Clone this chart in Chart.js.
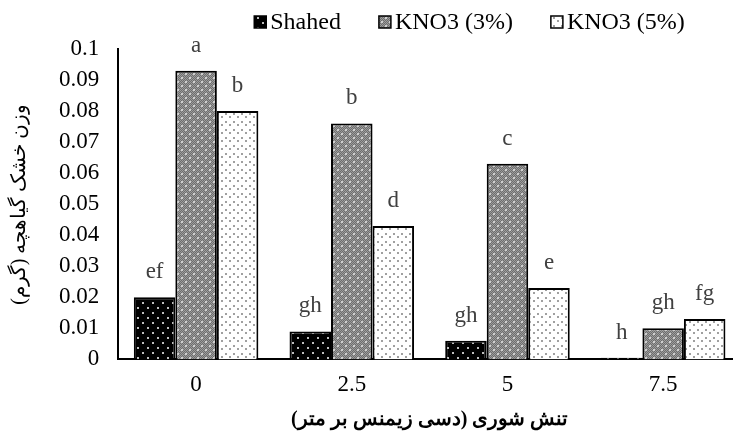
<!DOCTYPE html>
<html>
<head>
<meta charset="utf-8">
<script src="https://cdn.jsdelivr.net/npm/chart.js@4"></script>
<style>
  html, body { margin: 0; padding: 0; background: #fff; overflow: hidden; }
  #wrap { width: 741px; height: 444px; }
</style>
</head>
<body>
<div id="wrap"><canvas id="dryWeightChart"></canvas></div>
<script>
const categories = ['0', '2.5', '5', '7.5'];
const seriesNames = ['Shahed', 'KNO3 (3%)', 'KNO3 (5%)'];
const shahed = [0.020, 0.009, 0.006, 0.0005];
const kno3Low = [0.093, 0.076, 0.063, 0.010];
const kno3High = [0.080, 0.043, 0.023, 0.013];
const shahedLetters = ['ef', 'gh', 'gh', 'h'];
const kno3LowLetters = ['a', 'b', 'c', 'gh'];
const kno3HighLetters = ['b', 'd', 'e', 'fg'];
const yTicks = [0, 0.01, 0.02, 0.03, 0.04, 0.05, 0.06, 0.07, 0.08, 0.09, 0.1];

const FONT = "'Liberation Serif', 'Times New Roman', serif";

// small canvas patterns for the bar fills
function makePattern(size, bg, dot, dots, checker) {
    const c = document.createElement('canvas');
    c.width = size; c.height = size;
    const g = c.getContext('2d');
    g.fillStyle = bg;
    g.fillRect(0, 0, size, size);
    if (checker) {
        g.fillStyle = checker;
        for (let y = 0; y < size; y++)
            for (let x = (y % 2); x < size; x += 2) g.fillRect(x, y, 1, 1);
    }
    g.fillStyle = dot;
    dots.forEach(d => g.fillRect(d[0], d[1], 2, 2));
    return g.createPattern(c, 'repeat');
}

const fills = [
    makePattern(10, '#000000', '#bdbdbd', [[2, 2], [7, 7]]),
    makePattern(8, '#6e6e6e', '#cfcfcf', [[1, 1], [5, 5]], '#9c9c9c'),
    makePattern(8, '#ffffff', '#a0a0a0', [[1, 1], [5, 4]])
];

const letterSets = [shahedLetters, kno3LowLetters, kno3HighLetters];

// letters of significance above each bar
const letterPlugin = {
    id: 'letters',
    afterDatasetsDraw(chart) {
        const ctx = chart.ctx;
        ctx.save();
        ctx.font = '23px ' + FONT;
        ctx.fillStyle = '#404040';
        ctx.textAlign = 'center';
        ctx.textBaseline = 'alphabetic';
        chart.data.datasets.forEach((ds, i) => {
            chart.getDatasetMeta(i).data.forEach((bar, j) => {
                ctx.fillText(letterSets[i][j], bar.x, bar.y - 19);
            });
        });
        ctx.restore();
    }
};

// compact legend row above the plot area
const compactLegend = {
    id: 'compactLegend',
    afterDraw(chart) {
        const ctx = chart.ctx;
        const area = chart.chartArea;
        const box = 12, gap = 4, spacing = 38, y = 22;
        ctx.save();
        ctx.font = '24px ' + FONT;
        ctx.textBaseline = 'middle';
        let x = area.left + 136;
        chart.data.datasets.forEach(ds => {
            ctx.fillStyle = ds.backgroundColor;
            ctx.fillRect(x, y - box / 2, box, box);
            ctx.strokeStyle = '#000';
            ctx.lineWidth = 1.5;
            ctx.strokeRect(x, y - box / 2, box, box);
            ctx.fillStyle = '#000';
            ctx.fillText(ds.label, x + box + gap, y + 1);
            x += box + gap + ctx.measureText(ds.label).width + spacing;
        });
        ctx.restore();
    }
};

const ctx = document.getElementById('dryWeightChart').getContext('2d');
new Chart(ctx, {
    type: 'bar',
    data: {
        labels: categories,
        datasets: [shahed, kno3Low, kno3High].map((vals, i) => ({
            label: seriesNames[i],
            data: vals,
            backgroundColor: fills[i],
            borderColor: '#000',
            borderWidth: 2,
            borderSkipped: 'bottom',
            categoryPercentage: 0.8,
            barPercentage: 1
        }))
    },
    options: {
        responsive: true,
        maintainAspectRatio: false,
        animation: false,
        devicePixelRatio: 1,
        layout: { padding: { top: 49, left: 8, right: 0, bottom: 12 } },
        plugins: {
            legend: { display: false },
            tooltip: { enabled: false }
        },
        scales: {
            x: {
                grid: { display: false },
                border: { display: true, color: '#000', width: 2 },
                ticks: { font: { family: FONT, size: 23 }, color: '#000', padding: 4 },
                title: {
                    display: true,
                    text: 'تنش شوری (دسی زیمنس بر متر)',
                    font: { family: FONT, size: 20, weight: 'bold' },
                    color: '#000',
                    padding: { top: 5, bottom: 0 }
                }
            },
            y: {
                min: 0,
                max: 0.1,
                afterBuildTicks(axis) { axis.ticks = yTicks.map(v => ({ value: v })); },
                grid: { display: false },
                border: { display: true, color: '#000', width: 2 },
                ticks: {
                    font: { family: FONT, size: 23 },
                    color: '#000',
                    padding: 11,
                    callback: v => String(+v.toFixed(2))
                },
                title: {
                    display: true,
                    text: 'وزن خشک گیاهچه (گرم)',
                    font: { family: FONT, size: 20 },
                    color: '#000',
                    padding: { top: 0, bottom: 16 }
                }
            }
        }
    },
    plugins: [letterPlugin, compactLegend]
});
</script>
</body>
</html>
